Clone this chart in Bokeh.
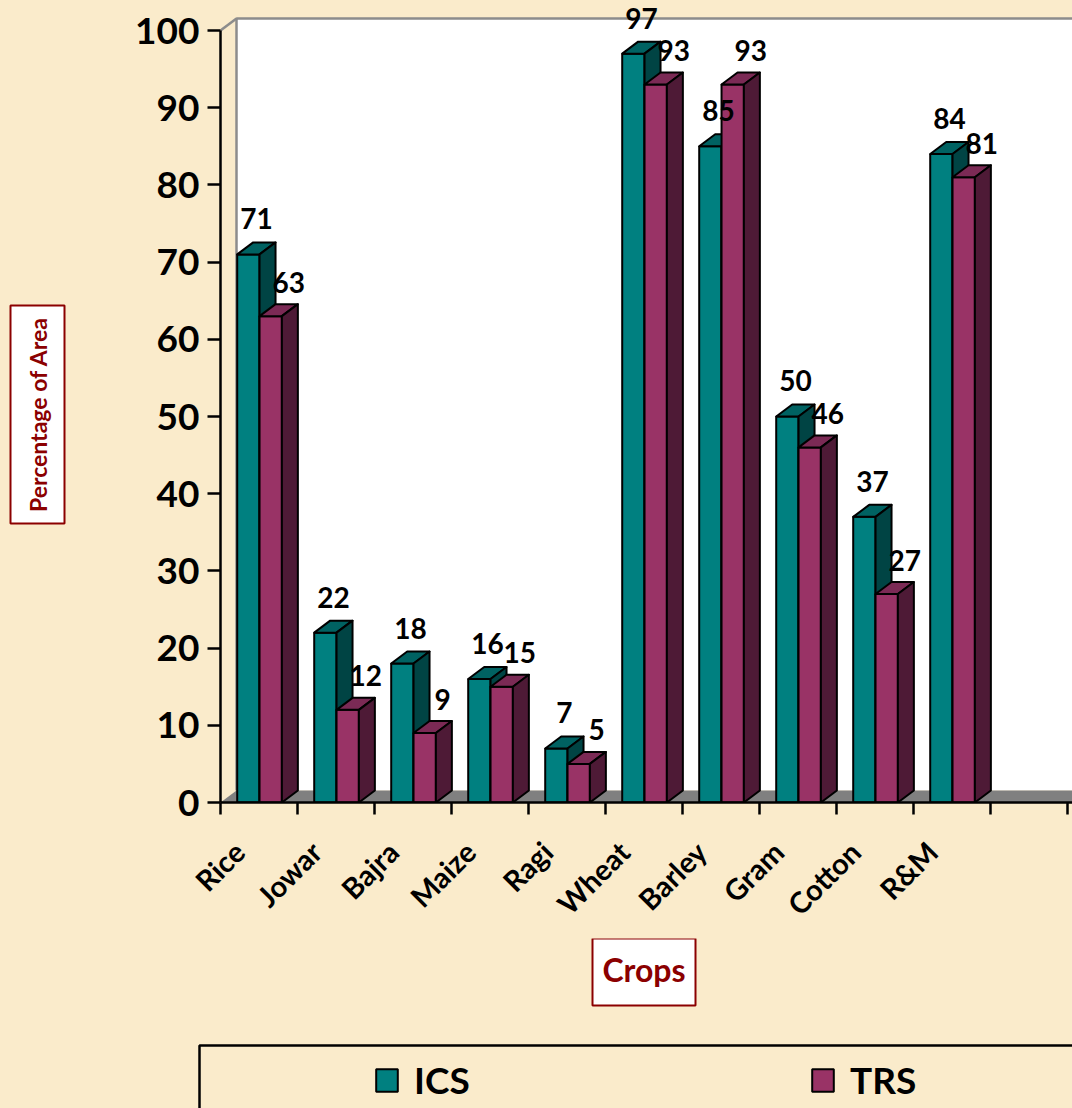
import math
from bokeh.plotting import figure
from bokeh.models import (ColumnDataSource, FixedTicker, Legend, LegendItem, Range1d)
from bokeh.layouts import column, row
from bokeh.core.properties import value
from bokeh.embed import file_html
from bokeh.resources import INLINE

# ---------------- data ----------------
crops = ["Rice", "Jowar", "Bajra", "Maize", "Ragi", "Wheat", "Barley", "Gram", "Cotton", "R&M"]
ics = [71, 22, 18, 16, 7, 97, 85, 50, 37, 84]
trs = [63, 12, 9, 15, 5, 93, 93, 46, 27, 81]
y_ticks = [0, 10, 20, 30, 40, 50, 60, 70, 80, 90, 100]
series_names = ["ICS", "TRS"]
x_title = "Crops"
y_title = "Percentage of Area"

# ---------------- style / geometry ----------------
BG = "#FAEBCB"
DARK_RED = "#8B0000"
ICS_FRONT, ICS_TOP, ICS_SIDE = "#008080", "#006262", "#004444"
TRS_FRONT, TRS_TOP, TRS_SIDE = "#993366", "#7B2A55", "#4E1A36"
FONT = "Lato"

TOTAL_W, TOTAL_H = 1072, 1108
LEFT_W = 112                 # left strip holding the y title box
MAIN_H = 938                 # main chart height
BOTTOM_H = TOTAL_H - MAIN_H  # strip with x title and legend
MAIN_W = TOTAL_W - LEFT_W
FRAME_X0 = 220               # page x of the value axis
FRAME_Y0 = 802               # page y of the zero line
BORDER_L = FRAME_X0 - LEFT_W
BORDER_B = MAIN_H - FRAME_Y0

PX_X = 77.0          # pixels per category slot
PX_Y = 7.72          # pixels per percentage unit
DX = 16 / PX_X       # 3-D depth offset (x, data units)
DY = 12 / PX_Y       # 3-D depth offset (y, data units)
SLOT0 = -0.24        # slot left edge relative to category label anchor
ICS_OFF = 0.217      # bar front offset within slot
BAR_W = 0.29
FAR = 20.0

x_start = SLOT0
x_end = x_start + (MAIN_W - BORDER_L) / PX_X
y_end = FRAME_Y0 / PX_Y


def base_fig(w, h, **kw):
    f = figure(width=w, height=h, output_backend="svg", toolbar_location=None, **kw)
    f.background_fill_color = BG
    f.border_fill_color = BG
    f.outline_line_color = None
    return f


# ---------------- main chart ----------------
p = base_fig(MAIN_W, MAIN_H, x_range=Range1d(x_start, x_end), y_range=Range1d(0, y_end),
             min_border_left=BORDER_L, min_border_right=0, min_border_top=0,
             min_border_bottom=BORDER_B)
p.xgrid.visible = False
p.ygrid.visible = False

top_val = y_ticks[-1]

# back wall
p.patch([SLOT0 + DX, FAR, FAR, SLOT0 + DX], [DY, DY, top_val + DY, top_val + DY],
        fill_color="white", line_color=None)
# floor
p.patch([SLOT0, FAR, FAR + DX, SLOT0 + DX], [0, 0, DY, DY],
        fill_color="#808080", line_color=None)
# wall edges
p.line([SLOT0 + DX, SLOT0 + DX, FAR], [DY, top_val + DY, top_val + DY],
       line_color="#8C8C8C", line_width=2.5)
p.line([SLOT0, SLOT0 + DX], [top_val, top_val + DY], line_color="#8C8C8C", line_width=2.5)


def bar_sources(vals, off):
    lefts = [i + SLOT0 + off for i in range(len(vals))]
    rights = [l + BAR_W for l in lefts]
    front = ColumnDataSource(dict(left=lefts, right=rights, top=vals, bottom=[0] * len(vals)))
    top = ColumnDataSource(dict(
        xs=[[l, r, r + DX, l + DX] for l, r in zip(lefts, rights)],
        ys=[[v, v, v + DY, v + DY] for v in vals]))
    side = ColumnDataSource(dict(
        xs=[[r, r + DX, r + DX, r] for r in rights],
        ys=[[0, DY, v + DY, v] for v in vals]))
    return front, top, side


for vals, off, (cf, ct, cs) in [(ics, ICS_OFF, (ICS_FRONT, ICS_TOP, ICS_SIDE)),
                                (trs, ICS_OFF + BAR_W, (TRS_FRONT, TRS_TOP, TRS_SIDE))]:
    fsrc, tsrc, ssrc = bar_sources(vals, off)
    p.quad(left="left", right="right", top="top", bottom="bottom", source=fsrc,
           fill_color=cf, line_color="black", line_width=2)
    p.patches("xs", "ys", source=tsrc, fill_color=ct, line_color="black", line_width=2,
              line_join="round")
    p.patches("xs", "ys", source=ssrc, fill_color=cs, line_color="black", line_width=2,
              line_join="round")

# data labels
n = len(crops)
p.text(x=[i + SLOT0 + 0.466 for i in range(n)], y=[v + 4.6 for v in ics],
       text=[str(v) for v in ics], text_font=value(FONT), text_font_style="bold",
       text_font_size="28px", text_align="center", text_baseline="middle", text_color="black")
p.text(x=[i + SLOT0 + 0.886 for i in range(n)], y=[v + 4.4 for v in trs],
       text=[str(v) for v in trs], text_font=value(FONT), text_font_style="bold",
       text_font_size="28px", text_align="center", text_baseline="middle", text_color="black")

# y axis
yax = p.yaxis[0]
yax.ticker = FixedTicker(ticks=y_ticks)
yax.bounds = (0, top_val)
yax.axis_line_color = "black"
yax.axis_line_width = 2.5
yax.major_tick_out = 13
yax.major_tick_in = 0
yax.minor_tick_out = 0
yax.minor_tick_in = 0
yax.major_tick_line_width = 2.5
yax.major_tick_line_color = "black"
yax.major_label_text_font = FONT
yax.major_label_text_font_style = "bold"
yax.major_label_text_font_size = "37px"
yax.major_label_text_color = "black"
yax.major_label_standoff = 8

# x axis
xax = p.xaxis[0]
xax.ticker = FixedTicker(ticks=list(range(n)), minor_ticks=[i + SLOT0 for i in range(n + 2)])
xax.major_label_overrides = {i: c for i, c in enumerate(crops)}
xax.axis_line_color = "black"
xax.axis_line_width = 2.5
xax.major_tick_out = 0
xax.major_tick_in = 0
xax.minor_tick_out = 12
xax.minor_tick_in = 0
xax.minor_tick_line_width = 2.5
xax.minor_tick_line_color = "black"
xax.major_label_orientation = math.pi / 4
xax.major_label_standoff = 32
xax.major_label_text_font = FONT
xax.major_label_text_font_style = "bold"
xax.major_label_text_font_size = "29px"
xax.major_label_text_color = "black"

# ---------------- left strip: y title box (page pixel coords, y up from zero line) ----------------
lf = base_fig(LEFT_W, MAIN_H, x_range=Range1d(0, LEFT_W), y_range=Range1d(0, FRAME_Y0),
              x_axis_location=None, y_axis_location=None,
              min_border_left=0, min_border_right=0, min_border_top=0,
              min_border_bottom=BORDER_B)
lf.grid.visible = False
ycx, ycy = 37, FRAME_Y0 - 414
lf.rect(x=[ycx], y=[ycy], width=54, height=218, fill_color="white",
        line_color=DARK_RED, line_width=2)
lf.text(x=[ycx], y=[ycy], text=[y_title], angle=math.pi / 2, text_font=value(FONT),
        text_font_style="bold", text_font_size="23px", text_color=DARK_RED,
        text_align="center", text_baseline="middle")

# ---------------- bottom strip: x title + legend (page pixel coords, y up) ----------------
bf = base_fig(TOTAL_W, BOTTOM_H, x_range=Range1d(0, TOTAL_W), y_range=Range1d(0, BOTTOM_H),
              x_axis_location=None, y_axis_location=None, min_border=0)
bf.grid.visible = False


def by(page_y):
    return TOTAL_H - page_y


bf.rect(x=[643.5], y=[by(971.5)], width=103, height=67, fill_color="white",
        line_color=DARK_RED, line_width=2)
bf.text(x=[643.5], y=[by(969)], text=[x_title], text_font=value(FONT), text_font_style="bold",
        text_font_size="32px", text_color=DARK_RED, text_align="center", text_baseline="middle")
# legend frame
bf.quad(left=[199], right=[TOTAL_W + 50], top=[by(1045)], bottom=[by(1160)],
        fill_color=None, line_color="black", line_width=2.5)

# swatch renderers for the legend (kept outside the visible range)
r_ics = bf.quad(left=[-60], right=[-40], top=[-40], bottom=[-60], fill_color=ICS_FRONT,
                line_color="black", line_width=2)
r_trs = bf.quad(left=[-60], right=[-40], top=[-40], bottom=[-60], fill_color=TRS_FRONT,
                line_color="black", line_width=2)
legend = Legend(items=[LegendItem(label=series_names[0], renderers=[r_ics]),
                       LegendItem(label=series_names[1], renderers=[r_trs])],
                orientation="horizontal", location=(373, by(1102)), padding=0, margin=0,
                spacing=15, glyph_width=27, glyph_height=28, label_standoff=14,
                label_width=380, label_text_font=FONT, label_text_font_style="bold",
                label_text_font_size="37px", label_text_color="black",
                border_line_color=None, background_fill_alpha=0)
bf.add_layout(legend)

layout = column(row(lf, p, spacing=0), bf, spacing=0)

html = file_html(layout, INLINE, title="Percentage of Area by Crop")
html = html.replace("</head>", "<style>html,body{background:%s;}</style></head>" % BG, 1)
open("out.html", "w").write(html)
